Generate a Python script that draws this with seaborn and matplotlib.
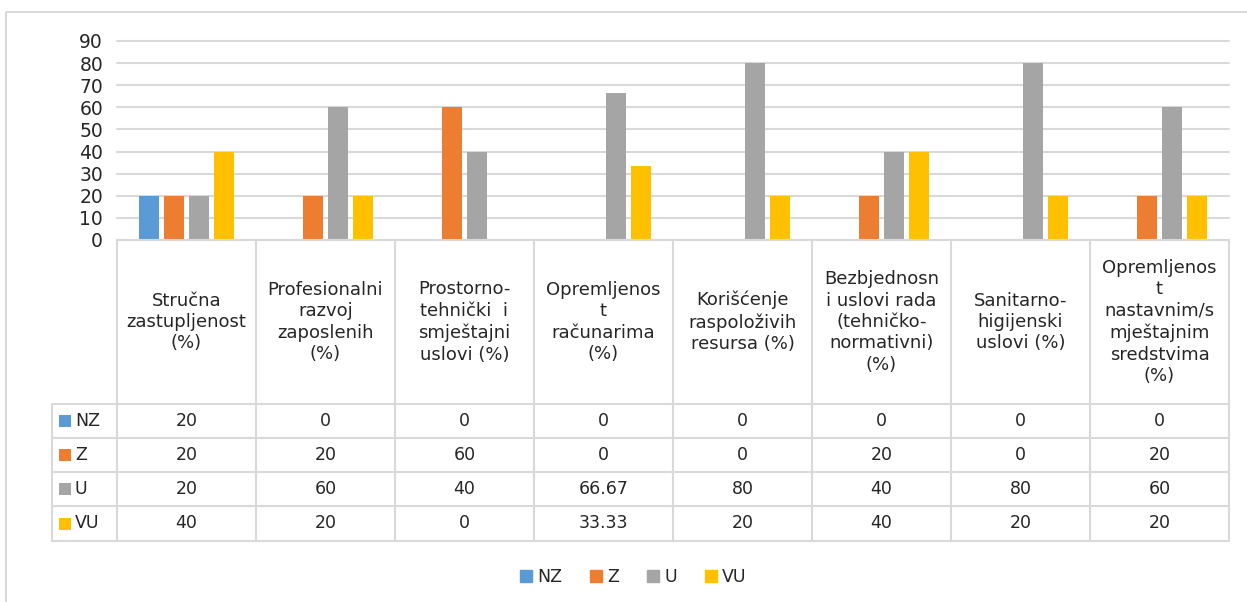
import numpy as np
import pandas as pd
import seaborn as sns
import matplotlib.pyplot as plt
from matplotlib.transforms import blended_transform_factory
from matplotlib.patches import Rectangle

categories = ["Stručna\nzastupljenost\n(%)",
              "Profesionalni\nrazvoj\nzaposlenih\n(%)",
              "Prostorno-\ntehnički  i\nsmještajni\nuslovi (%)",
              "Opremljenos\nt\nračunarima\n(%)",
              "Korišćenje\nraspoloživih\nresursa (%)",
              "Bezbjednosn\ni uslovi rada\n(tehničko-\nnormativni)\n(%)",
              "Sanitarno-\nhigijenski\nuslovi (%)",
              "Opremljenos\nt\nnastavnim/s\nmještajnim\nsredstvima\n(%)"]
series = ["NZ", "Z", "U", "VU"]
nz = [20, 0, 0, 0, 0, 0, 0, 0]
z = [20, 20, 60, 0, 0, 20, 0, 20]
u = [20, 60, 40, 66.67, 80, 40, 80, 60]
vu = [40, 20, 0, 33.33, 20, 40, 20, 20]
colors = ["#5B9BD5", "#ED7D31", "#A5A5A5", "#FFC000"]

df = pd.DataFrame({
    "cat": np.tile(np.arange(len(categories)), len(series)),
    "series": np.repeat(series, len(categories)),
    "val": nz + z + u + vu,
})

sns.set_style("white")
plt.rcParams["font.family"] = ["DejaVu Sans"]
W, H = 1247, 602
fig = plt.figure(figsize=(W / 100, H / 100), dpi=100)

# pixel overlay for table/border
ov = fig.add_axes([0, 0, 1, 1])
ov.set_xlim(0, W)
ov.set_ylim(H, 0)
ov.axis("off")

left, right, top, zero = 117, 1229, 41, 240
ax = fig.add_axes([left / W, 1 - zero / H, (right - left) / W, (zero - top) / H])
sns.barplot(data=df, x="cat", y="val", hue="series", palette=colors,
            width=0.72, gap=0.2, errorbar=None, legend=False, ax=ax,
            saturation=1, linewidth=0,
            order=list(range(len(categories))), hue_order=series)
ax.set_ylim(0, 90)
ax.set_xlim(-0.5, len(categories) - 0.5)
ax.set_yticks(range(0, 91, 10))
ax.yaxis.grid(True, color="#D9D9D9", lw=1.5)
for gl in ax.get_ygridlines():
    gl.set_clip_on(False)
ax.set_axisbelow(True)
ax.set_xticks([])
ax.set_xlabel("")
ax.set_ylabel("")
for s in ["top", "right", "left"]:
    ax.spines[s].set_visible(False)
ax.spines["bottom"].set_color("#D9D9D9")
ax.spines["bottom"].set_linewidth(1.5)
ax.tick_params(axis="y", length=0, labelsize=13.5, colors="#262626", pad=10)
ax.patch.set_alpha(0)

# outer border
ov.add_patch(Rectangle((6, 12), W, H, fill=False, ec="#D9D9D9", lw=1.5))

# data table
tr = blended_transform_factory(ax.transData, ov.transData)
gc = "#D9D9D9"
rows_y = [240, 404, 438, 472, 506, 541]
tab_left = 52
for yy in rows_y[1:]:
    ov.plot([tab_left, right], [yy, yy], color=gc, lw=1.5)
ov.plot([tab_left, tab_left], [rows_y[1], rows_y[-1]], color=gc, lw=1.5)
for i in range(len(categories) + 1):
    ov.plot([i - 0.5, i - 0.5], [rows_y[0], rows_y[-1]], color=gc, lw=1.5, transform=tr)

for i, c in enumerate(categories):
    ov.text(i, (rows_y[0] + rows_y[1]) / 2, c, transform=tr, ha="center", va="center",
            fontsize=13, color="#262626", linespacing=1.25)

vals = [nz, z, u, vu]
for r, (name, col, v) in enumerate(zip(series, colors, vals)):
    yc = (rows_y[r + 1] + rows_y[r + 2]) / 2
    ov.add_patch(Rectangle((59, yc - 6), 12, 12, color=col, lw=0))
    ov.text(75, yc, name, ha="left", va="center", fontsize=12.5, color="#262626")
    for i, x in enumerate(v):
        ov.text(i, yc, f"{x:g}", transform=tr, ha="center", va="center",
                fontsize=12.5, color="#262626")

# legend
handles = [Rectangle((0, 0), 1, 1, color=c) for c in colors]
fig.legend(handles, series, loc="center", bbox_to_anchor=(633 / W, 1 - 577 / H),
           ncol=4, frameon=False, fontsize=12.5, handlelength=0.7, handleheight=0.7,
           handletextpad=0.3, columnspacing=1.6, labelcolor="#262626")

fig.savefig("out.png", dpi=100)
